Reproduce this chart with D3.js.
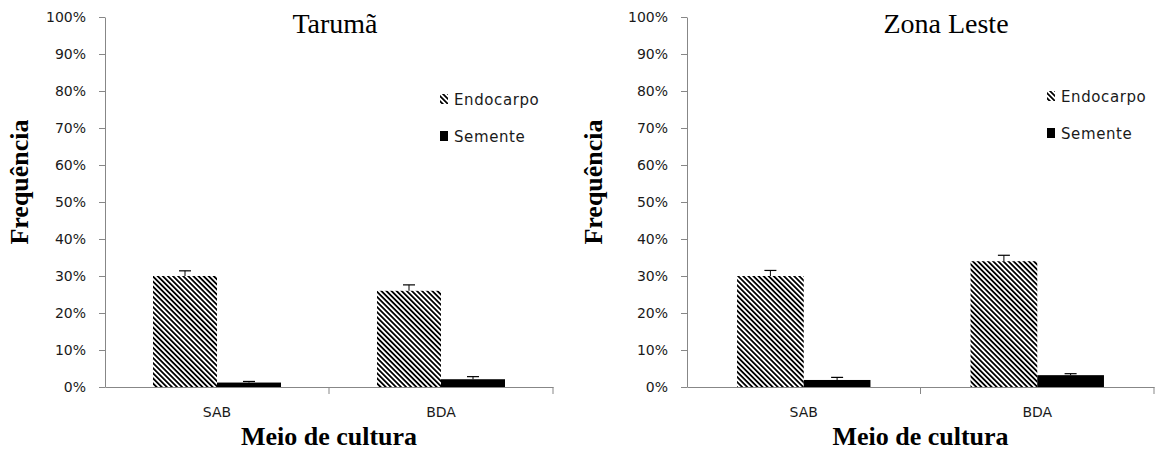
<!DOCTYPE html>
<html lang="pt">
<head>
  <meta charset="UTF-8">
  <style type="text/css">
    body {margin:0;background:#fff;}
    .axis text {font: 14px "DejaVu Sans"; fill:#1a1a1a;}
    .axis path, .axis line {stroke:#878787;}
    .title {font: 28px "Liberation Serif"; fill:#000;}
    .label {font: bold 26px "Liberation Serif"; fill:#000;}
    .legend {font: 15px "DejaVu Sans"; fill:#1a1a1a; letter-spacing:0.6px;}
  </style>
  <title>Frequência</title>
</head>
<body>
  <svg id="chart" width="1158" height="452"></svg>

  <script src="https://d3js.org/d3.v7.min.js"></script>
  <script type="text/javascript">
    // data (percent)
    var categories = ["SAB", "BDA"];
    var seriesNames = ["Endocarpo", "Semente"];
    var yTicks = [0, 10, 20, 30, 40, 50, 60, 70, 80, 90, 100];

    var tarumaEndocarpo = [30, 26];
    var tarumaEndocarpoErr = [1.4, 1.6];
    var tarumaSemente = [1.2, 2.1];
    var tarumaSementeErr = [0.3, 0.7];

    var lesteEndocarpo = [30, 34];
    var lesteEndocarpoErr = [1.5, 1.6];
    var lesteSemente = [1.9, 3.2];
    var lesteSementeErr = [0.7, 0.4];

    var svg = d3.select("#chart");

    // hatch pattern for Endocarpo
    var defs = svg.append("defs");
    defs.append("pattern")
      .attr("id", "hatch")
      .attr("patternUnits", "userSpaceOnUse")
      .attr("width", 3.6).attr("height", 3.6)
      .attr("patternTransform", "rotate(45)")
      .append("rect")
        .attr("width", 3.6).attr("height", 1.8)
        .attr("fill", "#000");

    var fills = {"Endocarpo": "url(#hatch)", "Semente": "#000"};

    var panels = [
      {title: "Tarumã", titleX: 335, left: 105, right: 553,
       values: {"Endocarpo": tarumaEndocarpo, "Semente": tarumaSemente},
       errors: {"Endocarpo": tarumaEndocarpoErr, "Semente": tarumaSementeErr},
       legendX: 440, legendY: 105, ylabelX: 28},
      {title: "Zona Leste", titleX: 946, left: 687, right: 1154,
       values: {"Endocarpo": lesteEndocarpo, "Semente": lesteSemente},
       errors: {"Endocarpo": lesteEndocarpoErr, "Semente": lesteSementeErr},
       legendX: 1047, legendY: 102, ylabelX: 602}
    ];

    var plotTop = 17, plotBottom = 387;

    panels.forEach(function(p) {
      var y = d3.scaleLinear().domain([0, 100]).range([plotBottom, plotTop]);
      var x0 = d3.scaleBand().domain(categories).range([p.left, p.right]);
      var x1 = d3.scaleBand().domain(seriesNames).range([0, x0.bandwidth()])
                 .paddingInner(0).paddingOuter(0.75);

      var g = svg.append("g");

      // y axis
      g.append("g")
        .attr("class", "axis")
        .attr("transform", "translate(" + p.left + ",0)")
        .call(d3.axisLeft(y).tickValues(yTicks).tickSize(6).tickSizeOuter(0)
               .tickPadding(13).tickFormat(function(d) { return d + "%"; }));

      // bars
      seriesNames.forEach(function(s) {
        var rows = categories.map(function(c, i) {
          return {cat: c, v: p.values[s][i], e: p.errors[s][i]};
        });
        g.selectAll(".bar-" + s)
          .data(rows)
          .enter().append("rect")
            .attr("x", function(d) { return x0(d.cat) + x1(s); })
            .attr("y", function(d) { return y(d.v); })
            .attr("width", x1.bandwidth())
            .attr("height", function(d) { return plotBottom - y(d.v); })
            .attr("fill", fills[s]);

        // error bars (upper only)
        var eb = g.selectAll(".err-" + s)
          .data(rows)
          .enter().append("g")
            .attr("transform", function(d) {
              return "translate(" + (x0(d.cat) + x1(s) + x1.bandwidth() / 2) + ",0)";
            });
        eb.append("line")
          .attr("x1", 0).attr("x2", 0)
          .attr("y1", function(d) { return y(d.v); })
          .attr("y2", function(d) { return y(d.v + d.e); })
          .attr("stroke", "#000");
        eb.append("line")
          .attr("x1", -6).attr("x2", 6)
          .attr("y1", function(d) { return y(d.v + d.e); })
          .attr("y2", function(d) { return y(d.v + d.e); })
          .attr("stroke", "#000").attr("stroke-width", 1.2);
      });

      // x axis: line, labels, boundary ticks
      var xAxis = g.append("g")
        .attr("class", "axis")
        .attr("transform", "translate(0," + plotBottom + ")")
        .call(d3.axisBottom(x0).tickSize(0).tickSizeOuter(0).tickPadding(20));
      var bounds = categories.map(function(c) { return x0(c) + x0.bandwidth(); });
      xAxis.selectAll(".bound")
        .data(bounds)
        .enter().append("line")
          .attr("class", "bound")
          .attr("x1", function(d) { return d; }).attr("x2", function(d) { return d; })
          .attr("y1", 0).attr("y2", 7);

      // title
      g.append("text")
        .attr("class", "title")
        .attr("x", p.titleX).attr("y", 33)
        .attr("text-anchor", "middle")
        .text(p.title);

      // axis labels
      g.append("text")
        .attr("class", "label")
        .attr("x", (p.left + p.right) / 2).attr("y", 445)
        .attr("text-anchor", "middle")
        .text("Meio de cultura");

      g.append("text")
        .attr("class", "label")
        .attr("transform", "translate(" + p.ylabelX + "," + ((plotTop + plotBottom) / 2 - 20) + ") rotate(-90)")
        .attr("text-anchor", "middle")
        .text("Frequência");

      // legend
      var leg = g.selectAll(".leg")
        .data(seriesNames)
        .enter().append("g")
          .attr("transform", function(d, i) {
            return "translate(" + p.legendX + "," + (p.legendY + i * 37) + ")";
          });
      leg.append("rect")
        .attr("x", 0).attr("y", -11)
        .attr("width", 8).attr("height", 10)
        .attr("fill", function(d) { return fills[d]; });
      leg.append("text")
        .attr("class", "legend")
        .attr("x", 14).attr("y", 0)
        .text(function(d) { return d; });
    });
  </script>
</body>
</html>
